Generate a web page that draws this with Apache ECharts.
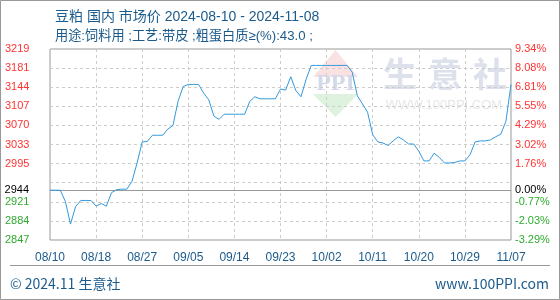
<!DOCTYPE html>
<html><head><meta charset="utf-8">
<script src="https://cdn.jsdelivr.net/npm/echarts@6/dist/echarts.min.js"></script>
<style>html,body{margin:0;padding:0;background:#fff}#c{width:560px;height:300px}</style>
</head><body><div id="c"></div>
<script>
const titleLine1 = '豆粕 国内 市场价 2024-08-10 - 2024-11-08';
const titleLine2 = '用途:饲料用 ;工艺:带皮 ;粗蛋白质≥(%):43.0 ;';
const categories = [
 '08/10','08/11','08/12','08/13','08/14','08/15','08/16','08/17','08/17',
 '08/18','08/19','08/20','08/21','08/22','08/23','08/24','08/25','08/26','08/27','08/28','08/29','08/30','08/31',
 '09/01','09/02','09/03','09/04','09/05','09/06','09/07','09/08','09/09','09/10','09/11','09/12','09/13','09/14','09/15',
 '09/16','09/17','09/18','09/19','09/20','09/21','09/22','09/23','09/24','09/25','09/26','09/27','09/28','09/29','09/30',
 '10/01','10/02','10/03','10/04','10/05','10/06','10/07','10/08','10/09','10/10','10/11','10/12','10/13','10/14','10/15',
 '10/16','10/17','10/18','10/19','10/20','10/21','10/22','10/23','10/24','10/25','10/26','10/27','10/28','10/29','10/30','10/31',
 '11/01','11/02','11/03','11/04','11/05','11/06','11/07'
];
const prices = [
 2944,2944,2944,2922,2878,2912,2924,2924,2924,2913,
 2918,2913,2939,2945,2946,2946,2961,2997,3038,3039,
 3051,3051,3051,3063,3070,3117,3146,3150,3150,3150,
 3133,3120,3088,3082,3092,3092,3092,3092,3092,3117,
 3126,3122,3122,3122,3122,3141,3139,3165,3138,3126,
 3160,3187,3187,3187,3187,3187,3187,3187,3187,3174,
 3128,3112,3096,3052,3038,3036,3031,3040,3048,3042,
 3034,3034,3020,3001,3001,3016,3008,2997,2997,2998,
 3001,3001,3013,3038,3040,3040,3042,3048,3053,3078,
 3150
];
const baseValue = 2944;
const baseLabelLeft = '2944';
const baseLabelRight = '0.00%';
const yMin = 2847, yMax = 3219;
const leftTicks = ['2847','2884','2921','','2995','3033','3070','3107','3144','3181','3219'];
const rightTicks = ['-3.29%','-2.03%','-0.77%','','1.76%','3.02%','4.29%','5.55%','6.81%','8.08%','9.34%'];
const footerLeft = '© 2024.11 生意社';
const footerRight = 'www.100PPI.com';
const watermarkChars = ['生','意','社'];
const watermarkUrl = 'WWW.100PPI.COM';
const logoText = 'PPI';

const RED = '#ff3333', GREEN = '#2faa2f', BLUE_TEXT = '#1b5b8c';
const TITLE_FONT = '"Liberation Sans","Noto Sans CJK SC"';
const labelColor = (v, i) => (i < 3 ? GREEN : RED);
const dash = {color: '#cccccc', type: [3, 3], width: 1};

const chart = echarts.init(document.getElementById('c'), null, {renderer: 'canvas'});
chart.setOption({
  animation: false,
  backgroundColor: '#ffffff',
  title: [
    {text: titleLine1, left: 50, top: 5, textStyle: {fontSize: 14, fontWeight: 'normal', color: BLUE_TEXT, fontFamily: TITLE_FONT}},
    {text: titleLine2, left: 50, top: 25, textStyle: {fontSize: 13.2, fontWeight: 'normal', color: BLUE_TEXT, fontFamily: TITLE_FONT}}
  ],
  grid: {left: 50, right: 49, top: 49, bottom: 60, show: true, borderColor: '#999', borderWidth: 1, backgroundColor: 'transparent'},
  xAxis: {
    type: 'category', data: categories, boundaryGap: false,
    axisLine: {show: false}, axisTick: {show: false},
    axisLabel: {interval: 8, color: BLUE_TEXT, fontSize: 12, fontFamily: 'Liberation Sans', margin: 12},
    splitLine: {show: true, interval: 8, lineStyle: dash}
  },
  yAxis: [
    {type: 'value', min: yMin, max: yMax, show: false, splitLine: {show: false}},
    {type: 'category', data: leftTicks, position: 'left', boundaryGap: false,
     axisLine: {show: false}, axisTick: {show: false},
     axisLabel: {interval: 0, margin: 45, align: 'left', fontSize: 11, fontFamily: 'Liberation Sans', color: labelColor},
     splitLine: {show: true, interval: 0, lineStyle: dash}},
    {type: 'category', data: rightTicks, position: 'right', boundaryGap: false,
     axisLine: {show: false}, axisTick: {show: false},
     axisLabel: {interval: 0, margin: 4, align: 'left', fontSize: 11, fontFamily: 'Liberation Sans', color: labelColor},
     splitLine: {show: false}}
  ],
  graphic: [
    {type: 'polygon', z: 0, shape: {points: [[313, 77], [358, 77], [335.5, 50]]}, style: {fill: '#fbe2e2'}},
    {type: 'text', z: 0, x: 335.5, y: 84, style: {text: logoText, fill: '#d3d9eb', font: 'bold 24px "Liberation Serif"', align: 'center', verticalAlign: 'middle'}},
    {type: 'polygon', z: 0, shape: {points: [[313, 94], [358, 94], [335.5, 117]]}, style: {fill: '#dff1df'}},
    {type: 'text', z: 0, x: 400, y: 74, style: {text: watermarkChars[0], fill: '#dde1ec', font: 'bold 34px "Noto Sans CJK SC"', align: 'center', verticalAlign: 'middle'}},
    {type: 'text', z: 0, x: 445, y: 74, style: {text: watermarkChars[1], fill: '#dde1ec', font: 'bold 34px "Noto Sans CJK SC"', align: 'center', verticalAlign: 'middle'}},
    {type: 'text', z: 0, x: 490, y: 74, style: {text: watermarkChars[2], fill: '#dde1ec', font: 'bold 34px "Noto Sans CJK SC"', align: 'center', verticalAlign: 'middle'}},
    {type: 'text', z: 0, x: 444, y: 105, style: {text: watermarkUrl, fill: '#e6e6e6', font: '13px "Liberation Sans"', align: 'center', verticalAlign: 'middle'}},
    {type: 'line', z: 1, shape: {x1: 10, y1: 265.5, x2: 550, y2: 265.5}, style: {stroke: '#999', lineWidth: 1}},
    {type: 'text', z: 1, x: 10, y: 284, style: {text: footerLeft, fill: BLUE_TEXT, font: '14px "Noto Sans CJK SC"', align: 'left', verticalAlign: 'middle'}},
    {type: 'text', z: 1, x: 549, y: 284, style: {text: footerRight, fill: BLUE_TEXT, font: '14px "Noto Sans CJK SC"', align: 'right', verticalAlign: 'middle'}},
    {type: 'rect', z: 1, shape: {x: 0.5, y: 0.5, width: 559, height: 299}, style: {fill: 'none', stroke: '#999', lineWidth: 1}}
  ],
  series: [{
    type: 'line', data: prices, yAxisIndex: 0, symbol: 'none', z: 5,
    lineStyle: {color: '#3399dd', width: 1},
    markLine: {
      silent: true, symbol: 'none', z: 4,
      lineStyle: {color: '#999', type: 'solid', width: 1},
      data: [
        {yAxis: baseValue, label: {show: true, position: 'start', distance: 21, formatter: baseLabelLeft, color: '#000', fontSize: 11, fontFamily: 'Liberation Sans'}},
        {yAxis: baseValue, label: {show: true, position: 'end', distance: 4, formatter: baseLabelRight, color: '#000', fontSize: 11, fontFamily: 'Liberation Sans'}}
      ]
    }
  }]
});
</script>
</body></html>
